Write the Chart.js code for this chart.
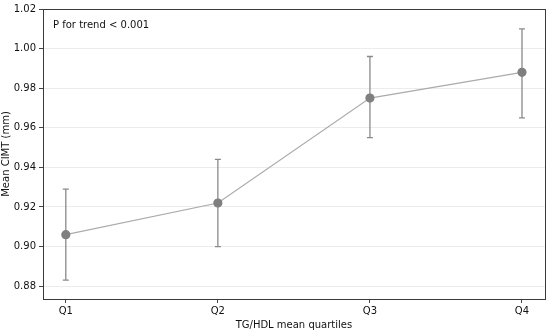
<!DOCTYPE html>
<html>
<head>
<meta charset="utf-8">
<script src="https://cdn.jsdelivr.net/npm/chart.js@4/dist/chart.umd.min.js"></script>
<style>
html,body{margin:0;padding:0;background:#fff;}
#wrap{width:550px;height:331px;position:relative;}
</style>
</head>
<body>
<div id="wrap"><canvas id="c" width="550" height="331"></canvas></div>
<script>
const categories = ["Q1", "Q2", "Q3", "Q4"];
const meanCIMT = [0.906, 0.922, 0.975, 0.988];
const lowerCI = [0.883, 0.900, 0.955, 0.965];
const upperCI = [0.929, 0.944, 0.996, 1.010];
const yTickValues = [0.88, 0.90, 0.92, 0.94, 0.96, 0.98, 1.00, 1.02];
const annotation = "P for trend < 0.001";

const FONT = "'DejaVu Sans', sans-serif";

const errorBars = {
  id: 'errorBars',
  beforeDatasetsDraw(chart) {
    const ctx = chart.ctx;
    const xs = chart.scales.x, ys = chart.scales.y;
    ctx.save();
    ctx.strokeStyle = '#8a8a8a';
    ctx.lineWidth = 1.3;
    for (let i = 0; i < categories.length; i++) {
      const x = xs.getPixelForValue(i);
      const y1 = ys.getPixelForValue(lowerCI[i]);
      const y2 = ys.getPixelForValue(upperCI[i]);
      ctx.beginPath();
      ctx.moveTo(x, y1); ctx.lineTo(x, y2);
      ctx.moveTo(x - 3, y1); ctx.lineTo(x + 3, y1);
      ctx.moveTo(x - 3, y2); ctx.lineTo(x + 3, y2);
      ctx.stroke();
    }
    ctx.restore();
  },
  afterDraw(chart) {
    const ctx = chart.ctx, a = chart.chartArea;
    ctx.save();
    ctx.strokeStyle = '#3a3a3a';
    ctx.lineWidth = 1;
    ctx.strokeRect(Math.round(a.left) + 0.5, Math.round(a.top) + 0.5, Math.round(a.right - a.left), Math.round(a.bottom - a.top));
    ctx.fillStyle = '#111';
    ctx.font = "10px " + FONT;
    ctx.textBaseline = 'middle';
    ctx.fillText(annotation, a.left + 10, a.top + 16);
    ctx.restore();
  }
};

new Chart(document.getElementById('c'), {
  type: 'scatter',
  data: {
    datasets: [{
      data: meanCIMT.map((v, i) => ({x: i, y: v})),
      showLine: true,
      borderColor: '#ababab',
      borderWidth: 1.2,
      pointBackgroundColor: '#7f7f7f',
      pointBorderColor: '#7f7f7f',
      pointRadius: 4,
      pointHoverRadius: 4
    }]
  },
  options: {
    responsive: false,
    animation: false,
    devicePixelRatio: 1,
    layout: {padding: {top: 7, right: 5, left: 0, bottom: 0}},
    plugins: {legend: {display: false}, tooltip: {enabled: false}},
    scales: {
      x: {
        type: 'linear',
        min: -0.15, max: 3.15,
        afterBuildTicks(s) { s.ticks = categories.map((c, i) => ({value: i})); },
        afterFit(s) { s.height = 32; },
        ticks: {
          callback: (v) => categories[v],
          font: {family: FONT, size: 10}, color: '#111', padding: 2, maxRotation: 0
        },
        grid: {drawOnChartArea: false, tickLength: 4, tickColor: '#444'},
        border: {display: true, color: '#3a3a3a'},
        title: {display: true, text: 'TG/HDL mean quartiles', font: {family: FONT, size: 10}, color: '#111', padding: {top: 0, bottom: 0}}
      },
      y: {
        min: 0.8735, max: 1.02,
        afterBuildTicks(s) { s.ticks = yTickValues.map(v => ({value: v})); },
        afterFit(s) { s.width = 43; },
        ticks: {
          callback: (v) => v.toFixed(2),
          font: {family: FONT, size: 10}, color: '#111', padding: 3
        },
        grid: {color: '#ececec', lineWidth: 1, tickLength: 4, tickColor: '#444'},
        border: {display: true, color: '#3a3a3a'},
        title: {display: true, text: 'Mean CIMT (mm)', font: {family: FONT, size: 10}, color: '#111', padding: {top: 0, bottom: 2}}
      }
    }
  },
  plugins: [errorBars]
});
</script>
</body>
</html>
